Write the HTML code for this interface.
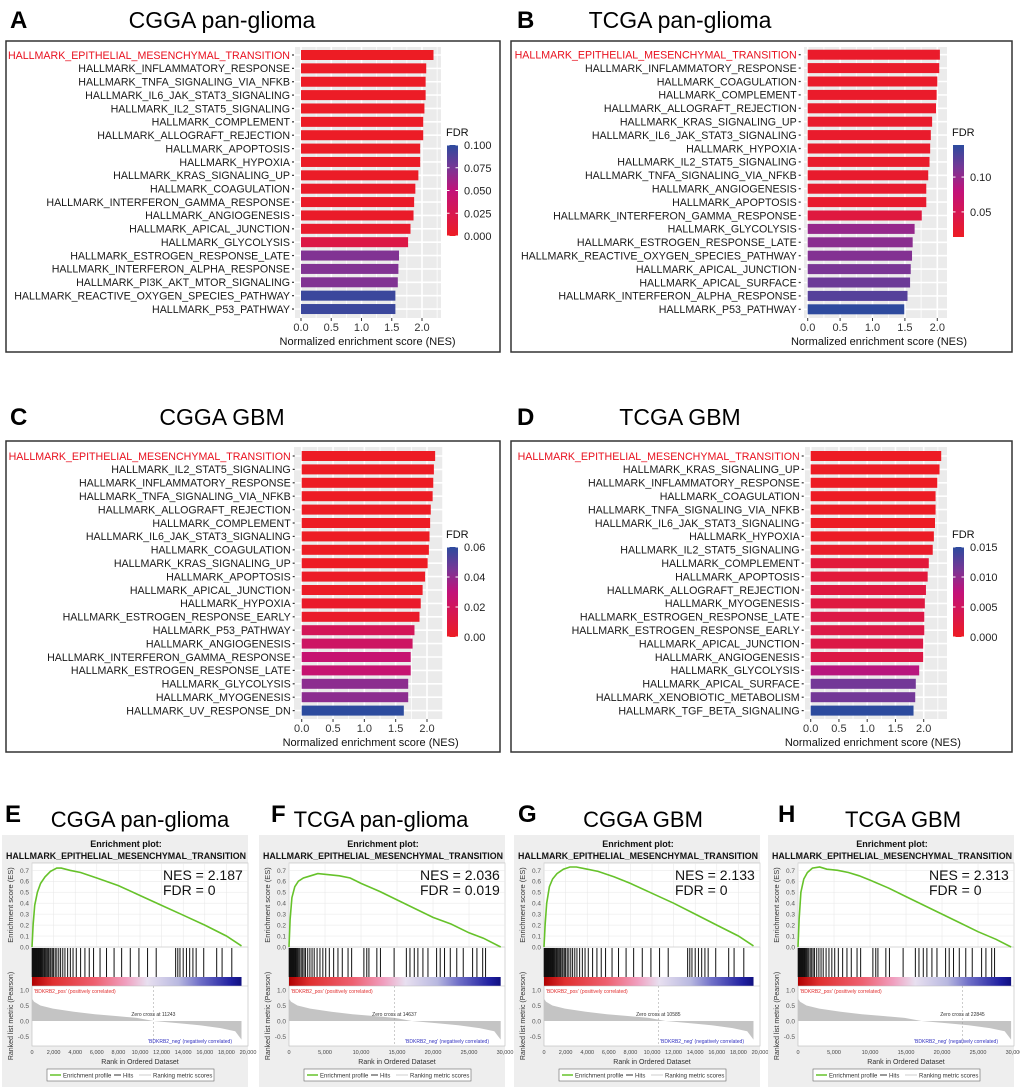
<!DOCTYPE html>
<html><head><meta charset="utf-8"><style>
body{margin:0;background:#fff;}
svg{display:block;font-family:"Liberation Sans",Arial,sans-serif;}
</style></head><body>
<svg id="fig" width="1020" height="1087" viewBox="0 0 1020 1087" xmlns="http://www.w3.org/2000/svg">
<rect x="0" y="0" width="1020" height="1087" fill="#fff"/>
</svg>
<script>
// ---------- Bar chart data ----------
const catsA = ["EPITHELIAL_MESENCHYMAL_TRANSITION","INFLAMMATORY_RESPONSE","TNFA_SIGNALING_VIA_NFKB","IL6_JAK_STAT3_SIGNALING","IL2_STAT5_SIGNALING","COMPLEMENT","ALLOGRAFT_REJECTION","APOPTOSIS","HYPOXIA","KRAS_SIGNALING_UP","COAGULATION","INTERFERON_GAMMA_RESPONSE","ANGIOGENESIS","APICAL_JUNCTION","GLYCOLYSIS","ESTROGEN_RESPONSE_LATE","INTERFERON_ALPHA_RESPONSE","PI3K_AKT_MTOR_SIGNALING","REACTIVE_OXYGEN_SPECIES_PATHWAY","P53_PATHWAY"];
const nesA = [2.19,2.07,2.06,2.06,2.04,2.02,2.02,1.97,1.97,1.94,1.89,1.87,1.86,1.81,1.77,1.62,1.61,1.60,1.56,1.56];
const fdrA = [0,0.001,0.001,0.001,0.001,0.001,0.001,0.002,0.002,0.002,0.003,0.003,0.003,0.005,0.02,0.072,0.072,0.072,0.095,0.095];
const ticksA = [0.100,0.075,0.050,0.025,0.000];

const catsB = ["EPITHELIAL_MESENCHYMAL_TRANSITION","INFLAMMATORY_RESPONSE","COAGULATION","COMPLEMENT","ALLOGRAFT_REJECTION","KRAS_SIGNALING_UP","IL6_JAK_STAT3_SIGNALING","HYPOXIA","IL2_STAT5_SIGNALING","TNFA_SIGNALING_VIA_NFKB","ANGIOGENESIS","APOPTOSIS","INTERFERON_GAMMA_RESPONSE","GLYCOLYSIS","ESTROGEN_RESPONSE_LATE","REACTIVE_OXYGEN_SPECIES_PATHWAY","APICAL_JUNCTION","APICAL_SURFACE","INTERFERON_ALPHA_RESPONSE","P53_PATHWAY"];
const nesB = [2.04,2.03,2.00,1.99,1.98,1.92,1.90,1.89,1.88,1.86,1.83,1.83,1.76,1.65,1.62,1.61,1.59,1.58,1.54,1.49];
const fdrB = [0.019,0.019,0.019,0.019,0.019,0.02,0.02,0.02,0.02,0.021,0.022,0.022,0.035,0.1,0.105,0.108,0.112,0.118,0.128,0.145];
const ticksB = [0.10,0.05];

const catsC = ["EPITHELIAL_MESENCHYMAL_TRANSITION","IL2_STAT5_SIGNALING","INFLAMMATORY_RESPONSE","TNFA_SIGNALING_VIA_NFKB","ALLOGRAFT_REJECTION","COMPLEMENT","IL6_JAK_STAT3_SIGNALING","COAGULATION","KRAS_SIGNALING_UP","APOPTOSIS","APICAL_JUNCTION","HYPOXIA","ESTROGEN_RESPONSE_EARLY","P53_PATHWAY","ANGIOGENESIS","INTERFERON_GAMMA_RESPONSE","ESTROGEN_RESPONSE_LATE","GLYCOLYSIS","MYOGENESIS","UV_RESPONSE_DN"];
const nesC = [2.13,2.11,2.10,2.09,2.06,2.05,2.04,2.03,2.01,1.97,1.93,1.90,1.88,1.80,1.77,1.74,1.74,1.70,1.70,1.63];
const fdrC = [0,0,0,0,0,0,0,0,0,0.001,0.001,0.002,0.002,0.018,0.022,0.027,0.027,0.041,0.041,0.06];
const ticksC = [0.06,0.04,0.02,0.00];

const catsD = ["EPITHELIAL_MESENCHYMAL_TRANSITION","KRAS_SIGNALING_UP","INFLAMMATORY_RESPONSE","COAGULATION","TNFA_SIGNALING_VIA_NFKB","IL6_JAK_STAT3_SIGNALING","HYPOXIA","IL2_STAT5_SIGNALING","COMPLEMENT","APOPTOSIS","ALLOGRAFT_REJECTION","MYOGENESIS","ESTROGEN_RESPONSE_LATE","ESTROGEN_RESPONSE_EARLY","APICAL_JUNCTION","ANGIOGENESIS","GLYCOLYSIS","APICAL_SURFACE","XENOBIOTIC_METABOLISM","TGF_BETA_SIGNALING"];
const nesD = [2.31,2.28,2.24,2.21,2.21,2.20,2.18,2.16,2.09,2.07,2.04,2.02,2.01,2.01,1.99,1.99,1.92,1.86,1.85,1.82];
const fdrD = [0,0,0,0,0,0,0.0002,0.0005,0.002,0.002,0.0025,0.0025,0.003,0.003,0.003,0.003,0.008,0.0115,0.0115,0.015];
const ticksD = [0.015,0.010,0.005,0.000];

const nesTicks = [0.0,0.5,1.0,1.5,2.0];

// ---------- GSEA data ----------
const esRankE = [0,100,250,500,800,1200,1700,2300,2700,3500,4500,6000,8000,10000,12000,14000,16000,18000,19400];
const esValE  = [0,0.2,0.38,0.5,0.58,0.64,0.69,0.72,0.72,0.70,0.68,0.63,0.56,0.47,0.38,0.29,0.2,0.1,0.01];
const hitsE = [20,50,80,110,140,170,200,230,270,300,330,360,410,460,520,580,640,700,760,830,900,980,1050,1150,1230,1320,1420,1520,1650,1750,1880,2000,2150,2300,2480,2650,2850,3050,3300,3550,3800,4100,4500,4900,5300,5700,6300,6900,7600,8300,9100,9900,10700,11500,13300,13500,13700,14000,14300,14600,14900,15200,15900,17100,17600,18500];
const esRankF = [0,150,400,800,1300,2000,3000,4000,5500,7000,8500,10000,12500,15000,17500,20000,22500,25000,27000,29400];
const esValF  = [0,0.25,0.45,0.55,0.6,0.63,0.65,0.67,0.66,0.65,0.63,0.58,0.51,0.43,0.35,0.27,0.21,0.13,0.08,0];
const hitsF = [30,70,110,150,210,250,280,350,420,500,580,660,760,860,960,1080,1200,1350,1500,1700,1900,2100,2300,2600,2900,3200,3500,3900,4300,4700,5100,5600,6200,6800,7400,8200,8700,10400,10800,11100,12200,12700,14600,16300,16800,17400,17900,18600,19300,20500,21000,21600,22400,23300,24200,25500,26100,26900,27300];
const esRankG = [0,100,250,500,800,1200,1800,2400,3000,4000,5000,6500,8000,10000,12000,14000,16000,18000,19400];
const esValG  = [0,0.2,0.4,0.55,0.62,0.67,0.71,0.73,0.73,0.71,0.69,0.64,0.58,0.49,0.40,0.30,0.2,0.1,0.01];
const esRankH = [0,150,400,800,1300,2000,3000,4000,5500,7000,8500,10000,12500,15000,17500,20000,22500,25000,27500,29600];
const esValH  = [0,0.25,0.5,0.62,0.68,0.72,0.73,0.71,0.70,0.68,0.65,0.61,0.54,0.46,0.38,0.30,0.22,0.14,0.07,0];
const metricFrac = [0,0.01,0.04,0.1,0.2,0.3,0.4,0.5,0.58,0.7,0.8,0.9,0.97,1];
const metricVal  = [0.72,0.62,0.5,0.4,0.3,0.22,0.16,0.1,0.0,-0.07,-0.14,-0.23,-0.33,-0.6];

const NS='http://www.w3.org/2000/svg';
const svg=document.getElementById('fig');
function el(tag,attrs,parent,text){const e=document.createElementNS(NS,tag);for(const k in attrs)e.setAttribute(k,attrs[k]);if(text!==undefined)e.textContent=text;(parent||svg).appendChild(e);return e;}

function lerp(a,b,t){return a+(b-a)*t;}
const stops=[[0,[237,28,36]],[0.5,[194,18,122]],[0.75,[120,55,150]],[1,[44,75,158]]];
function fdrColor(t){t=Math.max(0,Math.min(1,t));for(let i=0;i<stops.length-1;i++){const a=stops[i],b=stops[i+1];if(t<=b[0]){const u=(t-a[0])/(b[0]-a[0]);const c=a[1].map((v,j)=>Math.round(lerp(v,b[1][j],u)));return 'rgb('+c.join(',')+')';}}return 'rgb(44,75,158)';}

let gid=0;
function barPanel(cfg){
  const g=el('g',{},svg);
  
  
  const letter=el('text',{x:cfg.lx,y:cfg.ty,'font-size':24,'font-weight':'bold',fill:'#000'},g,cfg.letter);
  
  
  const t=el('text',{x:cfg.tcx,y:cfg.ty,'font-size':23,'text-anchor':'middle',fill:'#000'},g,cfg.title);
  
  
  const box=el('rect',{x:cfg.box[0],y:cfg.box[1],width:cfg.box[2],height:cfg.box[3],fill:'none',stroke:'#333','stroke-width':1.5},g);
  
  
  const xs=v=>cfg.x0+v*cfg.ppu;
  const bg=el('rect',{x:cfg.bg[0],y:cfg.bg[1],width:cfg.bg[2]-cfg.bg[0],height:cfg.bg[3]-cfg.bg[1],fill:'#ebebeb'},g);
  
  
  for(let v=0.25;v<=2.5;v+=0.5){const x=xs(v);if(x<cfg.bg[2])el('line',{x1:x,x2:x,y1:cfg.bg[1],y2:cfg.bg[3],stroke:'#fff','stroke-width':0.8},g);}
  nesTicks.forEach(v=>{const x=xs(v);el('line',{x1:x,x2:x,y1:cfg.bg[1],y2:cfg.bg[3],stroke:'#fff','stroke-width':1.6},g);});
  const cats=cfg.cats;
  const ys=i=>cfg.rowTop+i*cfg.step;
  cats.forEach((c,i)=>{el('line',{x1:cfg.bg[0],x2:cfg.bg[2],y1:ys(i),y2:ys(i),stroke:'#fff','stroke-width':1.6},g);});
  cats.forEach((c,i)=>{
    const y=ys(i);
    const lab=el('text',{x:cfg.x0-11,y:y+3.8,'font-size':10.65,'text-anchor':'end',fill:i===0?'#e8101e':'#1a1a1a'},g,'HALLMARK_'+c);
    
    
    el('line',{x1:cfg.x0-9,x2:cfg.x0-7,y1:y,y2:y,stroke:'#333','stroke-width':1.2},g);
    const t=(cfg.fdr[i]-cfg.lmin)/(cfg.lmax-cfg.lmin);
    const b=el('rect',{x:xs(0),y:y-5,width:xs(cfg.nes[i])-xs(0),height:10,fill:fdrColor(t)},g);
    
    
  });
  nesTicks.forEach(v=>{const x=xs(v);
    el('line',{x1:x,x2:x,y1:cfg.bg[3],y2:cfg.bg[3]+3,stroke:'#333','stroke-width':1},g);
    const tl=el('text',{x:x,y:cfg.bg[3]+13,'font-size':11,'text-anchor':'middle',fill:'#333'},g,v.toFixed(1));
    
    
  });
  const at=el('text',{x:xs(1.1),y:cfg.bg[3]+27,'font-size':11,'text-anchor':'middle',fill:'#111'},g,'Normalized enrichment score (NES)');
  
  
  // legend
  const id='lg'+(gid++);
  const defs=el('defs',{},g);
  const lg=el('linearGradient',{id:id,x1:0,y1:1,x2:0,y2:0},defs);
  stops.forEach(s=>el('stop',{offset:s[0],'stop-color':'rgb('+s[1].join(',')+')'},lg));
  const L=cfg.leg;
  const ft=el('text',{x:L.x-1,y:L.y1-9,'font-size':11,fill:'#111'},g,'FDR');
  
  
  const gr=el('rect',{x:L.x,y:L.y1,width:11,height:L.y2-L.y1,fill:'url(#'+id+')'},g);
  
  
  const ly=v=>L.y2-(v-cfg.lmin)/(cfg.lmax-cfg.lmin)*(L.y2-L.y1);
  cfg.ticks.forEach(v=>{const y=ly(v);
    el('line',{x1:L.x,x2:L.x+2.5,y1:y,y2:y,stroke:'#fff','stroke-width':1},g);
    el('line',{x1:L.x+8.5,x2:L.x+11,y1:y,y2:y,stroke:'#fff','stroke-width':1},g);
    const tl=el('text',{x:L.x+17,y:y+4,'font-size':11,fill:'#222'},g,v.toFixed(cfg.dec));
    
    
  });
}

barPanel({name:'panel-a-cgga-pan-glioma',letter:'A',lx:10,ty:28,tcx:222,title:'CGGA pan-glioma',box:[6,41,494,311],x0:301,ppu:60.5,rowTop:55,step:13.37,bg:[295,47,441,318],cats:catsA,nes:nesA,fdr:fdrA,lmin:0,lmax:0.1,ticks:ticksA,dec:3,leg:{x:447,y1:145,y2:236}});
barPanel({name:'panel-b-tcga-pan-glioma',letter:'B',lx:517,ty:28,tcx:680,title:'TCGA pan-glioma',box:[511,41,501,311],x0:807.7,ppu:64.8,rowTop:54.7,step:13.4,bg:[804,47,947,318],cats:catsB,nes:nesB,fdr:fdrB,lmin:0.014,lmax:0.146,ticks:ticksB,dec:2,leg:{x:953,y1:145,y2:237}});
barPanel({name:'panel-c-cgga-gbm',letter:'C',lx:10,ty:425,tcx:222,title:'CGGA GBM',box:[6,441,494,311],x0:301.7,ppu:62.65,rowTop:456,step:13.4,bg:[294,447,443,719],cats:catsC,nes:nesC,fdr:fdrC,lmin:0,lmax:0.06,ticks:ticksC,dec:2,leg:{x:447,y1:547,y2:637}});
barPanel({name:'panel-d-tcga-gbm',letter:'D',lx:517,ty:425,tcx:680,title:'TCGA GBM',box:[511,441,501,311],x0:810.7,ppu:56.5,rowTop:456,step:13.4,bg:[805,447,947,719],cats:catsD,nes:nesD,fdr:fdrD,lmin:0,lmax:0.015,ticks:ticksD,dec:3,leg:{x:953,y1:547,y2:637}});

// ---------- GSEA panels ----------
function gsea(cfg){
  const g=el('g',{},svg);
  
  
  const px=cfg.px;
  const lt=el('text',{x:cfg.lx,y:822,'font-size':24,'font-weight':'bold',fill:'#000'},g,cfg.letter);
  
  
  const tt=el('text',{x:cfg.tcx,y:827,'font-size':22,'text-anchor':'middle',fill:'#000'},g,cfg.title);
  
  
  el('rect',{x:px,y:835,width:246,height:252,fill:'#eeeeee'},g);
  const h1=el('text',{x:px+124,y:847,'font-size':9,'font-weight':'bold','text-anchor':'middle',fill:'#111'},g,'Enrichment plot:');
  
  
  const h2=el('text',{x:px+124,y:859,'font-size':9,'font-weight':'bold','text-anchor':'middle',fill:'#111',textLength:240,lengthAdjust:'spacingAndGlyphs'},g,'HALLMARK_EPITHELIAL_MESENCHYMAL_TRANSITION');
  
  
  const L=px+30, R=px+246, W=R-L;
  const xr=r=>L+r/cfg.xmax*W;
  const ES0=947, esU=109.6;
  const ye=v=>ES0-v*esU;
  el('rect',{x:L,y:863,width:W,height:183,fill:'#fff',stroke:'#bbb','stroke-width':0.6},g);
  for(let v=0;v<=0.7001;v+=0.1){el('line',{x1:L,x2:R,y1:ye(v),y2:ye(v),stroke:'#e6e6e6','stroke-width':0.5},g);
    el('text',{x:L-3,y:ye(v)+2.5,'font-size':6.5,'text-anchor':'end',fill:'#555'},g,v.toFixed(1));}
  cfg.xticks.forEach(v=>{const x=xr(v);el('line',{x1:x,x2:x,y1:863,y2:947,stroke:'#e6e6e6','stroke-width':0.5},g);
    el('text',{x:x,y:1054,'font-size':5.5,'text-anchor':'middle',fill:'#444'},g,v.toLocaleString('en-US'));});
  el('line',{x1:L,x2:R,y1:947,y2:947,stroke:'#bbb','stroke-width':0.6},g);
  const yl=el('text',{x:0,y:0,'font-size':7.5,'text-anchor':'middle',fill:'#333',transform:'translate('+(px+11)+',905) rotate(-90)'},g,'Enrichment score (ES)');
  
  
  const pts=cfg.esR.map((r,i)=>xr(r).toFixed(1)+','+ye(cfg.esV[i]).toFixed(1)).join(' ');
  const pl=el('polyline',{points:pts,fill:'none',stroke:'#66c22a','stroke-width':1.6},g);
  
  
  const n=el('text',{x:px+161,y:880,'font-size':14,fill:'#111'},g,'NES = '+cfg.nes);
  
  
  const f=el('text',{x:px+161,y:895,'font-size':14,fill:'#111'},g,'FDR = '+cfg.fdr);
  
  
  const hg=el('g',{},g);
  
  
  cfg.hits.forEach(r=>{const x=xr(r);el('line',{x1:x,x2:x,y1:948,y2:977,stroke:'#111','stroke-width':1},hg);});
  const id='cb'+(gid++);
  const defs=el('defs',{},g);
  const lg=el('linearGradient',{id:id,x1:0,y1:0,x2:1,y2:0},defs);
  [[0,'#b00000'],[0.1,'#e03030'],[0.3,'#ee6070'],[0.45,'#f0a0c0'],[0.55,'#e8e0f0'],[0.7,'#b8b8e0'],[0.8,'#7070c8'],[0.95,'#2020a0'],[1,'#101080']].forEach(s=>el('stop',{offset:s[0],'stop-color':s[1]},lg));
  const cb=el('rect',{x:L,y:977,width:xr(cfg.end)-L,height:9,fill:'url(#'+id+')'},g);
  
  
  el('line',{x1:L,x2:R,y1:986,y2:986,stroke:'#bbb','stroke-width':0.6},g);
  const M0=1021, mU=31;
  const ym=v=>M0-v*mU;
  [1.0,0.5,0.0,-0.5].forEach(v=>el('text',{x:L-3,y:ym(v)+2.5,'font-size':6.5,'text-anchor':'end',fill:'#555'},g,v.toFixed(1)));
  let ap='M'+L+','+M0+' ';
  metricFrac.forEach((fr,i)=>{ap+='L'+xr(fr*cfg.end).toFixed(1)+','+ym(metricVal[i]).toFixed(1)+' ';});
  ap+='L'+xr(cfg.end).toFixed(1)+','+M0+' Z';
  const ar=el('path',{d:ap,fill:'#c4c4c4'},g);
  
  
  const zx=xr(cfg.zero);
  el('line',{x1:zx,x2:zx,y1:986,y2:1046,stroke:'#999','stroke-width':0.5,'stroke-dasharray':'2,2'},g);
  el('text',{x:zx,y:1016,'font-size':5,'text-anchor':'middle',fill:'#333'},g,'Zero cross at '+cfg.zero);
  el('text',{x:L+2,y:993,'font-size':5,fill:'#e03030'},g,"'BDKRB2_pos' (positively correlated)");
  el('text',{x:R-16,y:1043,'font-size':5,'text-anchor':'end',fill:'#3030c0'},g,"'BDKRB2_neg' (negatively correlated)");
  const ml=el('text',{x:0,y:0,'font-size':7,'text-anchor':'middle',fill:'#333',transform:'translate('+(px+11)+',1016) rotate(-90)'},g,'Ranked list metric (Pearson)');
  
  
  const xt=el('text',{x:L+W/2,y:1064,'font-size':7,'text-anchor':'middle',fill:'#333'},g,'Rank in Ordered Dataset');
  
  
  const lgG=el('g',{},g);
  
  
  el('rect',{x:px+45,y:1069,width:167,height:12,fill:'#fff',stroke:'#666','stroke-width':0.6},lgG);
  el('line',{x1:px+48,x2:px+59,y1:1075,y2:1075,stroke:'#66c22a','stroke-width':1.5},lgG);
  el('text',{x:px+61,y:1077.5,'font-size':6,fill:'#333'},lgG,'Enrichment profile');
  el('line',{x1:px+112,x2:px+119,y1:1075,y2:1075,stroke:'#333','stroke-width':1},lgG);
  el('text',{x:px+121,y:1077.5,'font-size':6,fill:'#333'},lgG,'Hits');
  el('line',{x1:px+137,x2:px+149,y1:1075,y2:1075,stroke:'#ccc','stroke-width':1},lgG);
  el('text',{x:px+151,y:1077.5,'font-size':6,fill:'#333'},lgG,'Ranking metric scores');
}
const xt20=[0,2000,4000,6000,8000,10000,12000,14000,16000,18000,20000];
const xt30=[0,5000,10000,15000,20000,25000,30000];
gsea({name:'panel-e-gsea-cgga-pan-glioma',letter:'E',lx:5,tcx:140,title:'CGGA pan-glioma',px:2,xmax:20000,xticks:xt20,esR:esRankE,esV:esValE,hits:hitsE,nes:'2.187',fdr:'0',zero:11243,end:19400});
gsea({name:'panel-f-gsea-tcga-pan-glioma',letter:'F',lx:271,tcx:381,title:'TCGA pan-glioma',px:259,xmax:30000,xticks:xt30,esR:esRankF,esV:esValF,hits:hitsF,nes:'2.036',fdr:'0.019',zero:14637,end:29400});
gsea({name:'panel-g-gsea-cgga-gbm',letter:'G',lx:518,tcx:643,title:'CGGA GBM',px:514,xmax:20000,xticks:xt20,esR:esRankG,esV:esValG,hits:hitsE,nes:'2.133',fdr:'0',zero:10585,end:19400});
gsea({name:'panel-h-gsea-tcga-gbm',letter:'H',lx:778,tcx:903,title:'TCGA GBM',px:768,xmax:30000,xticks:xt30,esR:esRankH,esV:esValH,hits:hitsF,nes:'2.313',fdr:'0',zero:22845,end:29600});
</script>
</body></html>
